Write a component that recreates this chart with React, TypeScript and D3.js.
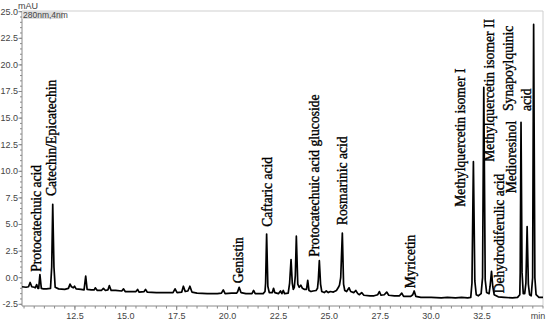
import React, { useEffect, useRef } from "react";
import * as d3 from "d3";

// chromatogram trace: [time (min), signal (mAU)]
const traceEarly: [number, number][] = [
  [9.9, -0.85], [10.1, -0.9], [10.22, -0.85], [10.3, -0.45], [10.38, -0.85],
  [10.5, -0.9], [10.55, -0.95], [10.62, -0.65], [10.68, -1.0], [10.72, -1.0],
  [10.78, 0.3], [10.85, -1.0], [10.95, -1.05], [11.1, -1.05], [11.3, -1.0],
  [11.36, 1.0], [11.41, 6.9], [11.47, 1.0], [11.53, -0.9], [11.7, -1.05],
  [12.0, -1.1], [12.18, -1.0], [12.26, -0.6], [12.33, -0.85], [12.42, -0.95],
  [12.48, -0.8], [12.56, -1.05], [12.8, -1.1], [12.95, -1.15], [13.03, 0.15],
  [13.1, -1.1], [13.3, -1.15], [13.45, -1.15], [13.5, -0.95], [13.6, -1.2],
  [13.8, -1.2], [13.9, -1.0], [14.0, -1.2], [14.12, -1.15], [14.19, -0.75],
  [14.28, -1.2], [14.5, -1.2], [14.8, -1.25], [14.89, -1.05], [14.97, -1.3],
  [15.3, -1.3], [15.5, -1.3], [15.58, -1.1], [15.65, -1.35], [15.9, -1.3],
  [15.97, -1.1], [16.05, -1.35], [16.5, -1.4], [17.0, -1.4],
];

const traceMid: [number, number][] = [
  [17.32, -1.4], [17.42, -1.05], [17.52, -1.4], [17.75, -1.35], [17.83, -0.8],
  [17.92, -1.3], [18.05, -1.25], [18.15, -0.8], [18.25, -1.35], [18.5, -1.45],
  [19.0, -1.5], [19.5, -1.5], [19.7, -1.45], [19.79, -1.15], [19.88, -1.5],
  [20.2, -1.45], [20.45, -1.45], [20.5, -1.3], [20.57, -0.9], [20.66, -1.4],
  [20.9, -1.5], [21.2, -1.5], [21.28, -1.2], [21.36, -1.5], [21.75, -1.5],
  [21.84, -1.3], [21.87, -0.5], [21.92, 4.1], [21.98, -0.8], [22.05, -1.4],
  [22.2, -1.4], [22.26, -1.0], [22.32, -1.4], [22.5, -1.5], [22.6, -1.25],
  [22.67, -1.5], [22.74, -1.2], [22.8, -1.5], [22.98, -1.45], [23.05, -0.5],
  [23.12, 1.7], [23.18, -0.5], [23.23, -1.1], [23.28, -0.9], [23.33, 0.2],
  [23.38, 3.9], [23.45, -0.6], [23.52, -0.9], [23.6, -0.7], [23.68, -1.0],
  [23.78, -1.1], [23.88, -1.1], [23.94, -0.25], [24.0, -1.2], [24.1, -1.3],
  [24.2, -1.25], [24.35, -1.2], [24.42, -1.0], [24.46, -0.2], [24.51, 1.6],
  [24.57, -0.6], [24.63, -1.3], [24.75, -1.4], [24.85, -1.25], [24.95, -1.4],
  [25.05, -1.3], [25.2, -1.35], [25.35, -1.2], [25.45, -0.9], [25.5, -0.7],
  [25.56, 0.0], [25.64, 4.2], [25.7, -0.6], [25.76, -1.2], [25.85, -1.3],
  [25.97, -0.95], [26.05, -1.3], [26.2, -1.4], [26.3, -1.2], [26.4, -1.5],
];

const traceLate: [number, number][] = [
  [26.48, -1.6], [26.59, -1.4], [26.7, -1.65], [27.0, -1.7], [27.2, -1.7],
  [27.38, -1.6], [27.46, -1.3], [27.54, -1.65], [27.7, -1.6], [27.82, -1.35],
  [27.92, -1.65], [28.2, -1.7], [28.45, -1.7], [28.56, -1.45], [28.65, -1.75],
  [29.0, -1.75], [29.1, -1.6], [29.17, -1.25], [29.25, -1.75], [29.5, -1.85],
  [30.0, -1.85], [30.5, -1.9], [30.8, -1.85], [31.2, -1.9], [31.5, -1.85],
  [31.8, -1.9], [31.95, -1.85], [32.01, -0.5], [32.08, 10.9], [32.15, -0.3],
  [32.22, -1.6], [32.32, -1.7], [32.46, -1.5], [32.53, 0.0], [32.59, 17.9],
  [32.66, -0.2], [32.73, -1.4], [32.85, -1.5], [32.9, -0.8], [32.97, 0.6],
  [33.03, -0.8], [33.1, -1.6], [33.3, -1.8], [33.6, -1.85], [34.0, -1.9],
  [34.25, -1.85], [34.36, -1.6], [34.38, 0.5], [34.42, 14.6], [34.47, 0.5],
  [34.53, -1.5], [34.6, -1.5], [34.66, -0.5], [34.72, 4.8], [34.78, -0.6],
  [34.84, -1.6], [34.92, -1.7], [34.99, 0.0], [35.04, 23.8], [35.1, 0.0],
  [35.16, -1.6], [35.3, -1.85], [35.5, -1.85],
];

// peak annotations: text lines, time of the text baseline, signal at text start
const peakNames: string[][] = [
  ["Protocatechuic acid"],
  ["Catechin/Epicatechin"],
  ["Genistin"],
  ["Caftaric acid"],
  ["Protocatechuic acid glucoside"],
  ["Rosmarinic acid"],
  ["Myricetin"],
  ["Methylquercetin isomer I"],
  ["Methylquercetin isomer II"],
  ["Dehydrodiferulic acid"],
  ["Medioresinol"],
  ["Synapoylquinic", "acid"],
];
const peakLabelTimes = [10.81, 11.59, 20.74, 22.17, 24.48, 25.85, 29.23, 31.68, 33.08, 33.56, 34.15, 34.03];
const peakLabelSignals = [0.56, 7.68, -0.53, 4.79, 1.97, 4.95, -1.0, 6.67, 10.9, -1.47, 7.93, 15.67];

const xTickValues = [12.5, 15.0, 17.5, 20.0, 22.5, 25.0, 27.5, 30.0, 32.5];
const yTickValues = [-2.5, 0.0, 2.5, 5.0, 7.5, 10.0, 12.5, 15.0, 17.5, 20.0, 22.5, 25.0];

const App = () => {
  const ref = useRef<SVGSVGElement | null>(null);

  useEffect(() => {
    const svg = d3.select(ref.current);
    svg.selectAll("*").remove();

    const x = d3.scaleLinear().domain([9.9, 35.5]).range([22, 543]);
    const y = d3.scaleLinear().domain([-2.66, 25]).range([306, 11.7]);

    const axisColor = "#8a8a8a";
    const labelColor = "#444";
    const sans = "'Liberation Sans', Arial, sans-serif";

    // frame (top and right)
    svg.append("line").attr("x1", 22).attr("x2", 543).attr("y1", 11).attr("y2", 11)
      .attr("stroke", "#cfcfcf").attr("stroke-width", 1);
    svg.append("line").attr("x1", 543).attr("x2", 543).attr("y1", 11).attr("y2", 306)
      .attr("stroke", "#cfcfcf").attr("stroke-width", 1);

    // y axis
    svg.append("line").attr("x1", 22).attr("x2", 22).attr("y1", 11).attr("y2", 306)
      .attr("stroke", axisColor);
    svg.selectAll(".ymin").data(d3.range(-2.5, 25.01, 0.5)).enter().append("line")
      .attr("x1", 20).attr("x2", 22)
      .attr("y1", (d) => y(d)).attr("y2", (d) => y(d))
      .attr("stroke", axisColor);
    svg.selectAll(".ytick").data(yTickValues).enter().append("line")
      .attr("x1", 18.5).attr("x2", 22)
      .attr("y1", (d) => y(d)).attr("y2", (d) => y(d))
      .attr("stroke", axisColor);
    svg.selectAll(".ylab").data(yTickValues).enter().append("text")
      .attr("x", 18).attr("y", (d) => y(d) + 3)
      .attr("text-anchor", "end")
      .style("font-family", sans).style("font-size", "9px").attr("fill", labelColor)
      .text((d) => d.toFixed(1));

    // x axis
    svg.append("line").attr("x1", 22).attr("x2", 543).attr("y1", 306).attr("y2", 306)
      .attr("stroke", axisColor);
    svg.selectAll(".xmin").data(d3.range(10, 35.51, 0.5)).enter().append("line")
      .attr("x1", (d) => x(d)).attr("x2", (d) => x(d))
      .attr("y1", 306).attr("y2", 308.5)
      .attr("stroke", axisColor);
    svg.selectAll(".xtick").data(xTickValues).enter().append("line")
      .attr("x1", (d) => x(d)).attr("x2", (d) => x(d))
      .attr("y1", 306).attr("y2", 310)
      .attr("stroke", axisColor);
    svg.selectAll(".xlab").data(xTickValues).enter().append("text")
      .attr("x", (d) => x(d)).attr("y", 319)
      .attr("text-anchor", "middle")
      .style("font-family", sans).style("font-size", "9px").attr("fill", labelColor)
      .text((d) => d.toFixed(1));
    svg.append("text").attr("x", 538).attr("y", 319).attr("text-anchor", "middle")
      .style("font-family", sans).style("font-size", "9px").attr("fill", labelColor)
      .text("min");

    // unit and channel header
    svg.append("text").attr("x", 18).attr("y", 9)
      .style("font-family", sans).style("font-size", "9px").attr("fill", labelColor)
      .text("mAU");
    svg.append("rect").attr("x", 22).attr("y", 11).attr("width", 41).attr("height", 8)
      .attr("fill", "#dedede");
    svg.append("text").attr("x", 23).attr("y", 18)
      .style("font-family", sans).style("font-size", "8.5px").attr("fill", labelColor)
      .text("280nm,4nm");

    // the trace
    const trace = [...traceEarly, ...traceMid, ...traceLate];
    const line = d3.line<[number, number]>()
      .x((d) => x(d[0]))
      .y((d) => y(d[1]));
    svg.append("path")
      .datum(trace)
      .attr("fill", "none")
      .attr("stroke", "#000")
      .attr("stroke-width", 1.7)
      .attr("stroke-linejoin", "round")
      .attr("d", line);

    // peak names, rotated (slight stroke to match the heavier print)
    peakNames.forEach((lines, i) => {
      const t = svg.append("text")
        .attr("transform", `translate(${x(peakLabelTimes[i])},${y(peakLabelSignals[i])}) rotate(-90)`)
        .attr("text-anchor", "start")
        .style("font-family", "'Liberation Serif', 'Times New Roman', serif")
        .style("font-size", "13.6px")
        .attr("fill", "#000")
        .attr("stroke", "#000")
        .attr("stroke-width", 0.35);
      lines.forEach((s, j) => {
        t.append("tspan").attr("x", 0).attr("dy", j === 0 ? 0 : 18).text(s);
      });
    });
  }, []);

  return (
    <svg
      ref={ref}
      width={550}
      height={324}
      style={{ position: "absolute", left: 0, top: 0, background: "#fff" }}
    />
  );
};

export default App;
